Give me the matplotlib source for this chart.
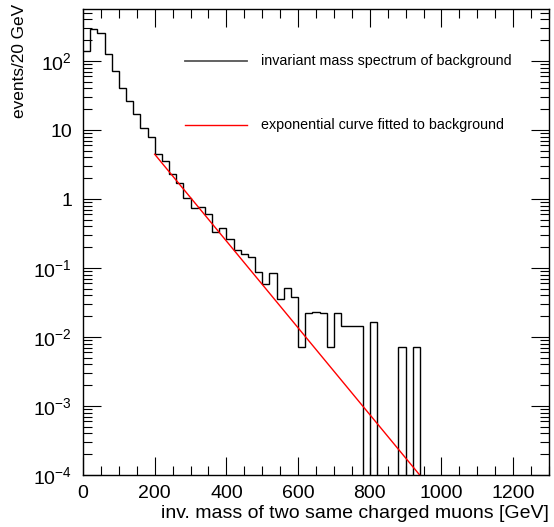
import numpy as np
import matplotlib
matplotlib.use("Agg")
import matplotlib.pyplot as plt
from matplotlib.ticker import FuncFormatter, FixedLocator, MultipleLocator, NullFormatter

plt.rcParams['font.family'] = ['Liberation Sans', 'DejaVu Sans']
plt.rcParams['mathtext.fontset'] = 'custom'
plt.rcParams['mathtext.rm'] = 'Liberation Sans'
plt.rcParams['mathtext.it'] = 'Liberation Sans:italic'
plt.rcParams['mathtext.bf'] = 'Liberation Sans:bold'

# ---- data ----
bin_width = 20.0
x_min, x_max = 0.0, 1300.0
counts = [142, 291, 252, 126, 72, 40, 26, 16.9, 10.8, 8.0,
          4.44, 3.56, 2.30, 1.70, 1.02, 0.74, 0.76, 0.61, 0.33, 0.376,
          0.26, 0.181, 0.158, 0.143, 0.0883, 0.0592, 0.0855, 0.0359, 0.0508, 0.038,
          0.0072, 0.022, 0.0233, 0.022, 0.0072, 0.022, 0.0146, 0.0146, 0.0146, 0,
          0.0163, 0, 0, 0, 0.0072, 0, 0.0072]
fit_p0 = 4.39        # exp(p0 + p1*x)
fit_p1 = -0.01448
fit_range = (200.0, 1300.0)
y_decades = [-4, -3, -2, -1, 0, 1, 2]
labels = ["invariant mass spectrum of background",
          "exponential curve fitted to background"]
x_title = "inv. mass of two same charged muons [GeV]"
y_title = "events/20 GeV"

# ---- figure ----
W, H = 554, 527
fig = plt.figure(figsize=(W / 100, H / 100), dpi=100)
L, R, T, B = 83, 549, 9, 475
ax = fig.add_axes([L / W, 1 - B / H, (R - L) / W, (B - T) / H])

edges = np.arange(x_min, x_max + bin_width / 2, bin_width)
vals = np.zeros(len(edges) - 1)
vals[:len(counts)] = counts
draw_vals = np.where(vals > 0, vals, 1e-12)
ax.stairs(draw_vals, edges, baseline=None, color='black', lw=1.0)

xf = np.linspace(fit_range[0], fit_range[1], 400)
ax.plot(xf, np.exp(fit_p0 + fit_p1 * xf), color='#ff0000', lw=1.0)

y_lo, y_hi = 1e-4, 10 ** 2.754
ax.set_yscale('log')
ax.set_xlim(x_min, x_max)
ax.set_ylim(y_lo, y_hi)

ax.xaxis.set_major_locator(MultipleLocator(200))
ax.xaxis.set_minor_locator(MultipleLocator(50))
major_y = [10.0 ** e for e in y_decades]
minor_y = [m * 10.0 ** e for e in y_decades for m in range(2, 10) if m * 10.0 ** e < y_hi]
ax.yaxis.set_major_locator(FixedLocator(major_y))
ax.yaxis.set_minor_locator(FixedLocator(minor_y))
ax.yaxis.set_minor_formatter(NullFormatter())
ax.xaxis.set_minor_formatter(NullFormatter())

def yfmt(v, pos):
    e = int(round(np.log10(v)))
    if e == 0:
        return "1"
    if e == 1:
        return "10"
    return r"$\mathregular{10^{%d}}$" % e

ax.yaxis.set_major_formatter(FuncFormatter(yfmt))
ax.xaxis.set_major_formatter(FuncFormatter(lambda v, p: "%d" % v))

ax.tick_params(which='both', direction='in', top=True, right=True, width=0.8,
               labelsize=14, color='black')
ax.tick_params(which='major', length=13)
ax.tick_params(which='minor', length=6.5)
ax.tick_params(axis='x', which='major', pad=7)
ax.tick_params(axis='y', which='major', pad=8)
for s in ax.spines.values():
    s.set_linewidth(1.0)

ax.set_xlabel(x_title, fontsize=14, loc='right', labelpad=2)
ax.set_ylabel(y_title, fontsize=12.4, loc='top')
ax.yaxis.set_label_coords((27 - L) / (R - L), 1.01)

# legend (no frame)
def px2ax(xp, yp):
    return (xp - L) / (R - L), (B - yp) / (B - T)

for (yp, col, lw), lab in zip([(61, '#555555', 1.3), (125, '#ff0000', 1.0)], labels):
    x0, y0 = px2ax(185, yp)
    x1, _ = px2ax(247, yp)
    ax.plot([x0, x1], [y0, y0], color=col, lw=lw, transform=ax.transAxes)
    xt, _ = px2ax(261, yp)
    ax.text(xt, y0, lab, transform=ax.transAxes, fontsize=10.3, va='center', ha='left')

fig.savefig("out.png", dpi=100)
